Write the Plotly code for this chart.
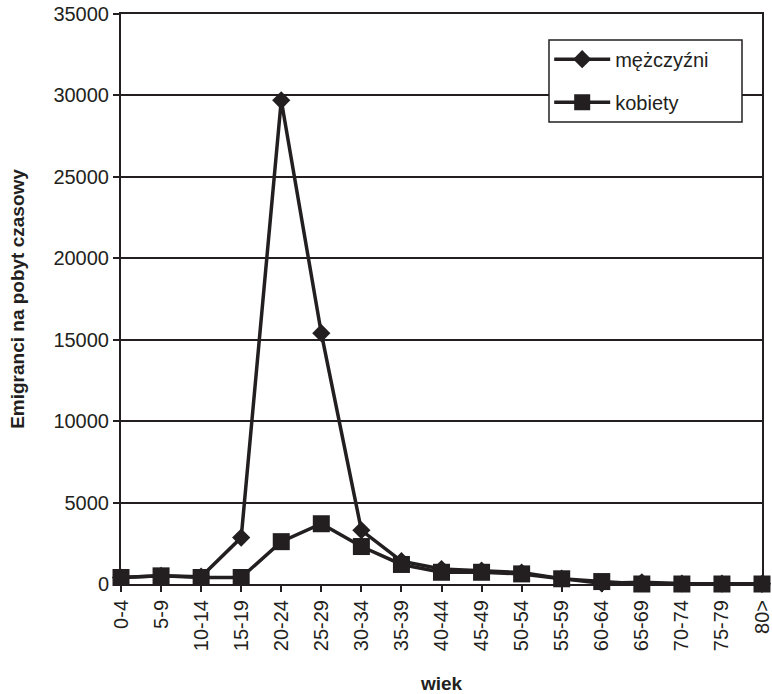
import plotly.graph_objects as go

# Age groups and temporary-stay emigrants by sex
age_groups = ["0-4", "5-9", "10-14", "15-19", "20-24", "25-29", "30-34", "35-39",
              "40-44", "45-49", "50-54", "55-59", "60-64", "65-69", "70-74", "75-79", "80>"]
men = [400, 500, 450, 2850, 29700, 15400, 3300, 1400, 920, 820, 700, 330, 40, 100, 30, 20, 10]
women = [400, 500, 400, 400, 2600, 3700, 2300, 1200, 720, 720, 620, 320, 150, 0, 0, 0, 0]

y_ticks = [0, 5000, 10000, 15000, 20000, 25000, 30000, 35000]

INK = "#231f20"
FONT = "Liberation Sans, Arial, sans-serif"

fig = go.Figure()
fig.add_trace(go.Scatter(
    x=list(range(len(age_groups))), y=men, name="mężczyźni",
    mode="lines+markers", legendgroup="m",
    line=dict(color=INK, width=3.5),
    marker=dict(symbol="diamond", size=14, color=INK),
    cliponaxis=False,
))
fig.add_trace(go.Scatter(
    x=list(range(len(age_groups))), y=women, name="kobiety",
    mode="lines+markers", legendgroup="k",
    line=dict(color=INK, width=3.5),
    marker=dict(symbol="square", size=17, color=INK),
    cliponaxis=False,
))

# Legend frame: a white box behind the legend entries
fig.add_shape(
    type="rect", xref="x domain", yref="y domain",
    x0=0.6677, x1=0.9688, y0=0.8105, y1=0.9544,
    fillcolor="white", line=dict(color=INK, width=1.5), layer="above",
)

fig.update_layout(
    width=772, height=694,
    margin=dict(l=121, r=10, t=14, b=110),
    paper_bgcolor="white", plot_bgcolor="white",
    font=dict(family=FONT, size=20, color=INK),
    showlegend=True,
    legend=dict(
        x=0.668, y=0.955, xanchor="left", yanchor="top",
        bgcolor="rgba(0,0,0,0)", borderwidth=0,
        font=dict(size=20, color=INK),
        itemwidth=56,
        tracegroupgap=14, traceorder="grouped",
    ),
    xaxis=dict(
        range=[0, len(age_groups) - 1], automargin=False,
        tickmode="array", tickvals=list(range(len(age_groups))), ticktext=age_groups,
        tickangle=-90, ticks="outside", ticklen=6, tickcolor=INK, tickwidth=1.5,
        ticklabeloverflow="allow",
        showline=True, linecolor=INK, linewidth=2, mirror=True,
        showgrid=False, zeroline=False,
        title=dict(text="<b>wiek</b>", font=dict(size=19), standoff=30),
    ),
    yaxis=dict(
        range=[0, 35000], automargin=False,
        tickmode="array", tickvals=y_ticks, ticktext=[str(v) for v in y_ticks],
        ticks="outside", ticklen=6, tickcolor=INK, tickwidth=1.5,
        showline=True, linecolor=INK, linewidth=2, mirror=True,
        showgrid=True, gridcolor=INK, gridwidth=1.5, zeroline=False,
        title=dict(text="<b>Emigranci na pobyt czasowy</b>", font=dict(size=19), standoff=24),
    ),
)

fig.write_html("out.html")
